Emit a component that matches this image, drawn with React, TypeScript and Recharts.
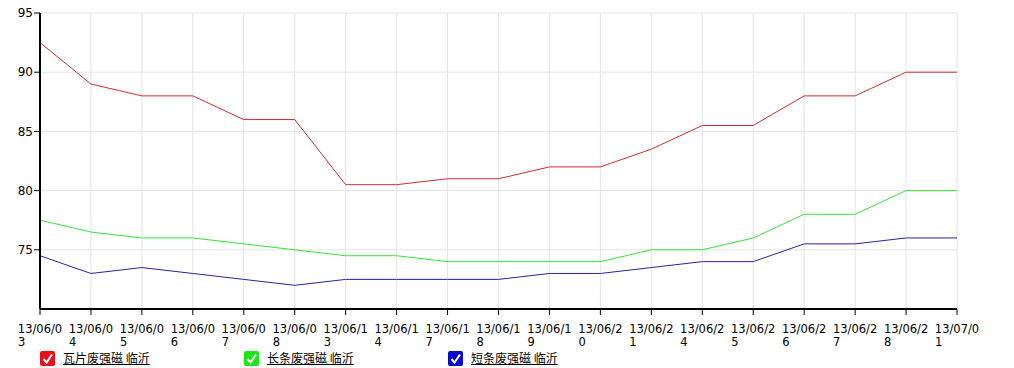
import { LineChart, Line, XAxis, YAxis, CartesianGrid } from 'recharts';

const dates = [
  '13/06/03', '13/06/04', '13/06/05', '13/06/06', '13/06/07', '13/06/08', '13/06/13',
  '13/06/14', '13/06/17', '13/06/18', '13/06/19', '13/06/20', '13/06/21', '13/06/24',
  '13/06/25', '13/06/26', '13/06/27', '13/06/28', '13/07/01',
];
const tileScrap = [92.5, 89, 88, 88, 86, 86, 80.5, 80.5, 81, 81, 82, 82, 83.5, 85.5, 85.5, 88, 88, 90, 90];
const longScrap = [77.5, 76.5, 76, 76, 75.5, 75, 74.5, 74.5, 74, 74, 74, 74, 75, 75, 76, 78, 78, 80, 80];
const shortScrap = [74.5, 73, 73.5, 73, 72.5, 72, 72.5, 72.5, 72.5, 72.5, 73, 73, 73.5, 74, 74, 75.5, 75.5, 76, 76];
const seriesNames = ['瓦片废强磁 临沂', '长条废强磁 临沂', '短条废强磁 临沂'];
const seriesColors = ['#d42c2c', '#33e633', '#2424a8'];
const boxColors = ['#e8101a', '#18e818', '#0808d0'];
const yTicks = [75, 80, 85, 90, 95];

const data = dates.map((d, i) => ({ date: d, a: tileScrap[i], b: longScrap[i], c: shortScrap[i] }));
const keys = ['a', 'b', 'c'];

const FONT = '"DejaVu Sans", Verdana, sans-serif';

function DateTick(props: any) {
  const { x, y, payload } = props;
  const s: string = payload.value;
  const first = s.slice(0, 7);
  const rest = s.slice(7);
  return (
    <g>
      <text x={x} y={y + 16} textAnchor="middle" fontSize={11.5} fontFamily={FONT} fill="#000">{first}</text>
      <text x={x - 22} y={y + 29} textAnchor="start" fontSize={11.5} fontFamily={FONT} fill="#000">{rest}</text>
    </g>
  );
}

function Check({ color }: { color: string }) {
  return (
    <svg width={15} height={15} style={{ display: 'block' }}>
      <rect x={0} y={0} width={15} height={15} rx={2} fill={color} />
      <path d="M3.5 8 L6.5 11.5 L12 3.5" stroke="#fff" strokeWidth={2} fill="none" />
    </svg>
  );
}

export default function App() {
  return (
    <div style={{ position: 'absolute', left: 0, top: 0, width: 1014, height: 368, background: '#fff', fontFamily: FONT }}>
      <LineChart width={1014} height={368} data={data} margin={{ top: 13, right: 57, left: 0, bottom: 0 }}>
        <CartesianGrid stroke="#e4e4e4" strokeWidth={1} />
        <XAxis
          dataKey="date"
          height={59}
          interval={0}
          tick={<DateTick />}
          axisLine={{ stroke: '#000', strokeWidth: 2 }}
          tickLine={{ stroke: '#000', strokeWidth: 1 }}
          tickSize={6}
        />
        <YAxis
          width={40}
          domain={[70, 95]}
          ticks={yTicks}
          interval={0}
          tick={{ fontSize: 12, fill: '#000', fontFamily: FONT }}
          axisLine={{ stroke: '#000', strokeWidth: 2 }}
          tickLine={{ stroke: '#000', strokeWidth: 1 }}
          tickSize={6}
          tickMargin={1}
        />
        {keys.map((k, i) => (
          <Line
            key={k}
            type="linear"
            dataKey={k}
            name={seriesNames[i]}
            stroke={seriesColors[i]}
            strokeWidth={1}
            dot={false}
            activeDot={false}
            isAnimationActive={false}
          />
        ))}
      </LineChart>
      {seriesNames.map((n, i) => (
        <div
          key={n}
          style={{ position: 'absolute', left: 40 + i * 204, top: 350, height: 16, display: 'flex', alignItems: 'center', gap: 8 }}
        >
          <Check color={boxColors[i]} />
          <span style={{ fontSize: 12, lineHeight: '14px', textDecoration: 'underline', color: '#000', fontFamily: '"Noto Sans CJK SC", sans-serif' }}>{n}</span>
        </div>
      ))}
    </div>
  );
}
